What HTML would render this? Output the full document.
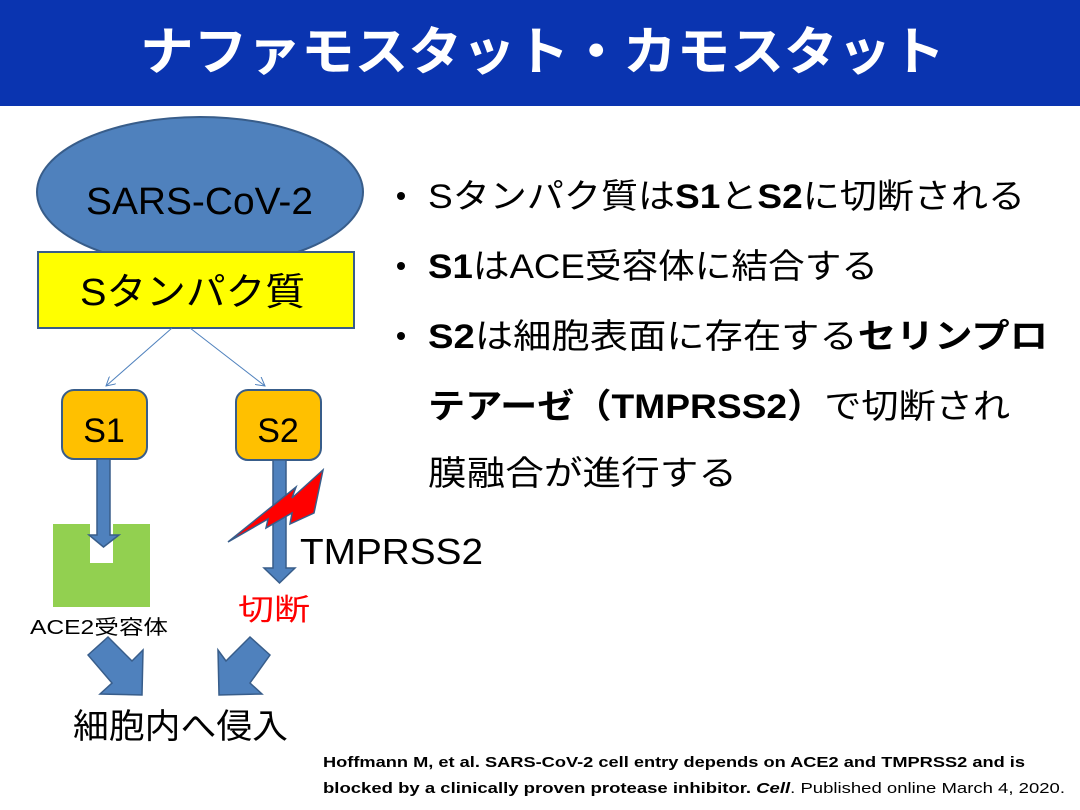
<!DOCTYPE html>
<html><head><meta charset="utf-8"><style>
html,body{margin:0;padding:0;background:#fff;}
svg{display:block;font-family:"Liberation Sans","Noto Sans CJK JP",sans-serif;}
</style></head><body>
<svg width="1080" height="810" viewBox="0 0 1080 810" xmlns="http://www.w3.org/2000/svg">
<defs>
<marker id="ah" markerWidth="10" markerHeight="10" refX="9" refY="5" orient="auto" markerUnits="userSpaceOnUse">
<path d="M0,0 L9,5 L0,10" fill="none" stroke="#4f81bd" stroke-width="1"/>
</marker>
</defs>
<rect x="0" y="0" width="1080" height="106" fill="#0a34b0"/>
<text x="140" y="70" font-size="52" font-weight="bold" fill="#fff" textLength="805" lengthAdjust="spacingAndGlyphs">ナファモスタット・カモスタット</text>

<ellipse cx="200" cy="192" rx="163" ry="75" fill="#4f81bd" stroke="#385d8a" stroke-width="2"/>
<text x="86" y="214" font-size="38" textLength="227" lengthAdjust="spacingAndGlyphs">SARS-CoV-2</text>
<rect x="38" y="252" width="316" height="76" fill="#ffff00" stroke="#385d8a" stroke-width="2"/>
<text x="80" y="305" font-size="38" textLength="225" lengthAdjust="spacingAndGlyphs">Sタンパク質</text>

<line x1="172" y1="328" x2="106" y2="386" stroke="#4f81bd" stroke-width="1" marker-end="url(#ah)"/>
<line x1="190" y1="328" x2="265" y2="386" stroke="#4f81bd" stroke-width="1" marker-end="url(#ah)"/>

<rect x="62" y="390" width="85" height="69" rx="12" fill="#ffc000" stroke="#385d8a" stroke-width="2"/>
<text x="104" y="442" font-size="34" text-anchor="middle">S1</text>
<rect x="236" y="390" width="85" height="70" rx="12" fill="#ffc000" stroke="#385d8a" stroke-width="2"/>
<text x="278" y="442" font-size="34" text-anchor="middle">S2</text>

<path d="M53,524 H90 V563 H113 V524 H150 V607 H53 Z" fill="#92d050"/>
<path d="M97,459 H110 V535 H119 L103.5,547 L89,535 H97 Z" fill="#4f81bd" stroke="#385d8a" stroke-width="1.5"/>
<path d="M273,460 H286 V568 H295 L279.5,583 L264,568 H273 Z" fill="#4f81bd" stroke="#385d8a" stroke-width="1.5"/>

<path d="M228,542 L296,487 L292,498 L323,470 L314,513 L290,524 L292,513 L266,528 L268,519 Z" fill="#ff0000" stroke="#385d8a" stroke-width="1.5"/>

<text x="300" y="564" font-size="36" textLength="183" lengthAdjust="spacingAndGlyphs">TMPRSS2</text>
<text x="238" y="620" font-size="30" fill="#ff0000" textLength="72" lengthAdjust="spacingAndGlyphs">切断</text>
<text x="30" y="634" font-size="20" textLength="138" lengthAdjust="spacingAndGlyphs">ACE2受容体</text>

<path d="M88,655 L108,637 L132,661 L143,650 L142,695 L100,694 L112,683 Z" fill="#4f81bd" stroke="#385d8a" stroke-width="1.5"/>
<path d="M270,655 L250,637 L226,661 L218,650 L219,695 L262,694 L250,683 Z" fill="#4f81bd" stroke="#385d8a" stroke-width="1.5"/>

<text x="73" y="738" font-size="34" textLength="215" lengthAdjust="spacingAndGlyphs">細胞内へ侵入</text>

<g font-size="34">
<circle cx="401" cy="196" r="4" fill="#000"/>
<circle cx="401" cy="266" r="4" fill="#000"/>
<circle cx="401" cy="336" r="4" fill="#000"/>
<text x="428" y="208" textLength="597" lengthAdjust="spacingAndGlyphs">Sタンパク質は<tspan font-weight="bold">S1</tspan>と<tspan font-weight="bold">S2</tspan>に切断される</text>
<text x="428" y="278" textLength="450" lengthAdjust="spacingAndGlyphs"><tspan font-weight="bold">S1</tspan>はACE受容体に結合する</text>
<text x="428" y="348" textLength="620" lengthAdjust="spacingAndGlyphs"><tspan font-weight="bold">S2</tspan>は細胞表面に存在する<tspan font-weight="bold">セリンプロ</tspan></text>
<text x="428" y="418" textLength="582" lengthAdjust="spacingAndGlyphs"><tspan font-weight="bold">テアーゼ（TMPRSS2）</tspan>で切断され</text>
<text x="428" y="485" textLength="309" lengthAdjust="spacingAndGlyphs">膜融合が進行する</text>
</g>

<text x="323" y="767" font-size="15" font-weight="bold" textLength="702" lengthAdjust="spacingAndGlyphs">Hoffmann  M, et al.  SARS-CoV-2 cell entry depends on ACE2 and TMPRSS2 and is</text>
<text x="323" y="793" font-size="15" textLength="742" lengthAdjust="spacingAndGlyphs"><tspan font-weight="bold">blocked by a clinically proven protease inhibitor. </tspan><tspan font-weight="bold" font-style="italic">Cell</tspan>. Published online March 4, 2020.</text>
</svg>
</body></html>
